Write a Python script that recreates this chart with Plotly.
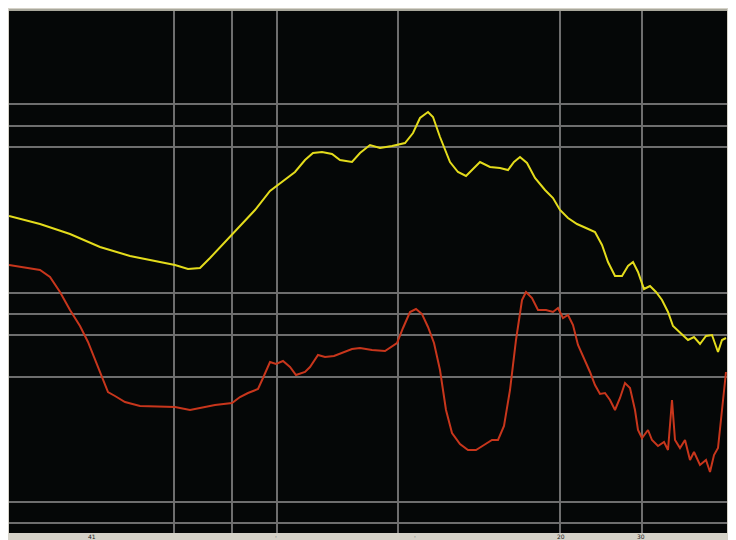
import plotly.graph_objects as go

# ---- data (arbitrary position units) ----
yellow_x = [0, 6.2, 12.2, 18.2, 24.2, 30.2, 33.2, 35.8, 38.2, 40.2, 43.2, 46.2, 49.2, 52.2, 55.2, 57.2,
            59.2, 60.8, 62.6, 64.6, 66.2, 68.6, 70.2, 72.2, 74.2, 76.6, 79.2, 80.8, 82.2, 83.8, 84.8,
            86.2, 88.2, 89.8, 91.4, 92.6, 94.2, 96.2, 98.2, 99.8, 101.0, 102.2, 103.6, 105.2, 107.2,
            108.8, 110.2, 111.8, 113.6, 115.4, 117.2, 118.6, 119.8, 121.2, 122.6, 123.8, 124.8, 125.8,
            127.0, 128.2, 129.4, 130.6, 131.8, 132.8, 134.2, 135.8, 137.0, 138.2, 139.4, 140.6, 141.8,
            142.6, 143.4]
yellow_y = [63.4, 61.8, 59.8, 57.2, 55.4, 54.2, 53.6, 52.8, 53.0, 55.0, 58.2, 61.4, 64.6, 68.4, 70.6, 72.2,
            74.6, 76.0, 76.2, 75.8, 74.6, 74.2, 76.0, 77.6, 77.0, 77.4, 78.0, 80.0, 83.0, 84.2, 83.2,
            79.2, 74.2, 72.2, 71.4, 72.6, 74.2, 73.2, 73.0, 72.6, 74.2, 75.2, 74.0, 71.0, 68.6,
            67.0, 64.6, 63.0, 61.8, 61.0, 60.2, 57.6, 54.2, 51.4, 51.4, 53.4, 54.2, 52.2,
            48.8, 49.4, 48.2, 46.6, 44.2, 41.4, 40.0, 38.6, 39.2, 37.8, 39.4, 39.6, 36.2,
            38.6, 39.0]

red_x = [0, 2.2, 6.2, 8.2, 10.2, 12.2, 14.2, 15.8, 17.2, 18.6, 19.8, 21.2, 23.2, 26.2, 30.2, 33.2, 36.2,
         38.2, 41.2, 44.6, 46.2, 47.8, 49.8, 50.8, 52.2, 53.4, 54.8, 56.2, 57.4, 59.2, 60.2, 61.8, 63.2,
         65.0, 67.2, 68.6, 70.2, 72.6, 75.2, 77.6, 78.8, 80.2, 81.4, 82.6, 83.8, 85.0, 86.2, 87.4, 88.6,
         90.2, 91.8, 93.4, 95.0, 96.6, 97.8, 99.0, 100.2, 101.4, 102.6, 103.4, 104.6, 105.8, 107.4,
         108.8, 109.8, 110.8, 111.8, 112.8, 113.8, 115.2, 116.2, 117.2, 118.2, 119.2, 120.2, 121.2,
         122.2, 123.2, 124.2, 125.2, 125.8, 126.6, 127.8, 128.6, 129.8, 131.0, 131.8, 132.6, 133.2,
         134.2, 135.2, 136.2, 137.0, 138.2, 139.4, 140.2, 141.0, 141.8, 142.6, 143.2, 143.4]
red_y = [53.6, 53.2, 52.6, 51.2, 48.2, 44.6, 41.4, 38.2, 34.6, 31.0, 28.2, 27.4, 26.2, 25.4, 25.2, 25.2, 24.6,
         25.0, 25.6, 26.0, 27.2, 28.0, 28.8, 31.0, 34.2, 33.8, 34.4, 33.2, 31.6, 32.2, 33.2, 35.6, 35.2,
         35.4, 36.2, 36.8, 37.0, 36.6, 36.4, 38.0, 41.0, 44.2, 44.8, 43.8, 41.2, 38.0, 32.6, 24.6, 20.0,
         17.8, 16.6, 16.6, 17.6, 18.6, 18.6, 21.4, 28.6, 38.6, 46.6, 48.2, 47.0, 44.6, 44.6,
         44.2, 45.0, 43.0, 43.6, 41.6, 37.6, 34.6, 32.2, 29.6, 27.8, 28.0, 26.6, 24.6,
         27.0, 30.0, 29.0, 24.6, 20.6, 19.0, 20.6, 18.6, 17.4, 18.2, 16.6, 26.6, 18.6,
         17.0, 18.6, 14.6, 16.2, 13.6, 14.6, 12.2, 15.6, 17.0, 24.6, 31.6, 32.2]

x_grid = [33.0, 44.6, 53.6, 77.8, 110.2, 126.6]
y_grid = [2.0, 6.2, 31.2, 39.6, 43.8, 48.0, 77.2, 81.4, 85.8]

x_label_pos = [16.6, 53.4, 81.2, 110.4, 126.4]
x_labels = ["41", "·", "·", "20", "30"]
x_label_edge = "4"
y_label_pos = [103.6, 100.0, 94.2, 90.2, 85.8, 81.4, 77.2, 67.2, 63.0, 58.6, 54.6, 50.8, 46.6, 42.4,
               38.6, 34.0, 28.6, 24.2, 19.8, 15.6, 10.6, 4.2, 1.6]
y_labels = ["-3", "42", "4'", "4", "-", "-6", "-5", "33", "33", "33", "72", "72", "'", "'",
            "4", "4'", "33", "33", "33", "3", "3", ".", ".."]

X_RANGE = [0, 143.6]
Y_RANGE = [0, 104.6]

fig = go.Figure()
fig.add_trace(go.Scatter(x=yellow_x, y=yellow_y, mode="lines",
                         line=dict(color="#e4dc1c", width=2), hoverinfo="skip"))
fig.add_trace(go.Scatter(x=red_x, y=red_y, mode="lines",
                         line=dict(color="#c8361c", width=2), hoverinfo="skip"))

# top border of the plot frame
fig.add_shape(type="line", xref="paper", yref="paper", x0=0, x1=1, y0=1.0, y1=1.0,
              line=dict(color="#a9a89c", width=2))

lab_font = dict(size=6, color="#222", family="DejaVu Sans")
for xv, t in zip(x_label_pos, x_labels):
    fig.add_annotation(x=xv, y=0, xref="x", yref="paper", text=t, showarrow=False,
                       yanchor="top", yshift=1, borderpad=0, font=lab_font)
fig.add_annotation(x=1, y=0, xref="paper", yref="paper", text=x_label_edge, showarrow=False,
                   xanchor="left", yanchor="top", xshift=1, yshift=1, borderpad=0, font=lab_font)
for yv, t in zip(y_label_pos, y_labels):
    fig.add_annotation(x=1, y=yv, xref="paper", yref="y", text=t, showarrow=False,
                       xanchor="left", xshift=1, borderpad=0, font=lab_font)

fig.update_layout(
    width=728, height=532,
    margin=dict(l=1, r=9, t=2, b=7, autoexpand=False),
    paper_bgcolor="#d5d2c8",
    plot_bgcolor="#050707",
    showlegend=False,
    xaxis=dict(range=X_RANGE, tickvals=x_grid, showticklabels=False, ticks="",
               showgrid=True, gridcolor="#6e6e6e", gridwidth=1.5, zeroline=False,
               showline=False, fixedrange=True),
    yaxis=dict(range=Y_RANGE, tickvals=y_grid, showticklabels=False, ticks="",
               showgrid=True, gridcolor="#6e6e6e", gridwidth=1.5, zeroline=False,
               showline=False, fixedrange=True),
)

fig.write_html("out.html", config={"displayModeBar": False})
